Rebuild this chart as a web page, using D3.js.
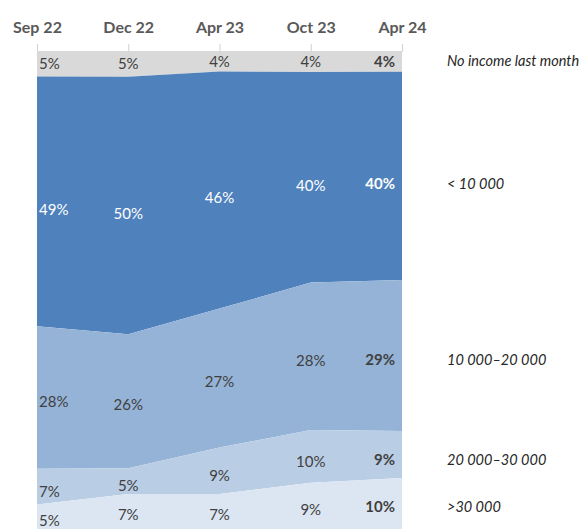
<!DOCTYPE html>
<html>
<head>
<meta charset="utf-8">
<script src="https://cdn.jsdelivr.net/npm/d3@7"></script>
<style>
  html, body { margin: 0; padding: 0; background: #fff; }
  svg { display: block; }
</style>
</head>
<body>
<svg id="chart" width="583" height="529"></svg>
<script>
// Survey waves
const periods = ["Sep 22", "Dec 22", "Apr 23", "Oct 23", "Apr 24"];
// Income groups, listed top to bottom
const categories = ["No income last month", "< 10 000", "10 000–20 000", "20 000–30 000", ">30 000"];
// Share of respondents per wave (%)
const noIncome    = [5, 5, 4, 4, 4];
const under10k    = [49, 50, 46, 40, 40];
const from10to20k = [28, 26, 27, 28, 29];
const from20to30k = [7, 5, 9, 10, 9];
const over30k     = [5, 7, 7, 9, 10];

const seriesValues = [noIncome, under10k, from10to20k, from20to30k, over30k];
const colors = ["#d9d9d9", "#4f81bd", "#95b3d7", "#b9cde5", "#dce6f2"];
const labelColors = ["#404040", "#ffffff", "#404040", "#404040", "#404040"];
// vertical nudge (px) of the labels below each band's middle
const labelNudge = [0, 8, 4, 5, 3];

const rows = periods.map((p, j) => {
  const r = { period: p };
  categories.forEach((c, i) => { r[c] = seriesValues[i][j]; });
  return r;
});

const stack = d3.stack().keys(categories).offset(d3.stackOffsetExpand);
const series = stack(rows);

const svg = d3.select("#chart");
const plotTop = 51, plotBottom = 530, plotLeft = 37, plotRight = 402;

const x = d3.scalePoint().domain(periods).range([plotLeft, plotRight]);
const y = d3.scaleLinear().domain([0, 1]).range([plotTop, plotBottom]);

const area = d3.area()
  .x(d => x(d.data.period))
  .y0(d => y(d[0]))
  .y1(d => y(d[1]));

svg.append("g")
  .selectAll("path")
  .data(series)
  .join("path")
  .attr("d", area)
  .attr("fill", (d, i) => colors[i]);

// Period axis along the top edge
const axis = svg.append("g")
  .attr("transform", `translate(0,${plotTop})`)
  .call(d3.axisTop(x).tickSize(7).tickPadding(11));
axis.select(".domain").attr("stroke", "#d9d9d9");
axis.selectAll(".tick line").attr("stroke", "#d0d0d0");
axis.selectAll(".tick text")
  .attr("fill", "#595959")
  .attr("font-family", "Lato, 'Open Sans', sans-serif")
  .attr("font-weight", "bold")
  .attr("font-size", 16);

// Value labels inside each band
const last = periods.length - 1;
const labels = svg.append("g")
  .attr("font-family", "Lato, 'Open Sans', sans-serif")
  .attr("font-size", 15);

series.forEach((s, i) => {
  s.forEach((d, j) => {
    const cx = x(d.data.period);
    const cy = (y(d[0]) + y(d[1])) / 2 + labelNudge[i];
    labels.append("text")
      .attr("x", j === 0 ? cx + 2 : j === last ? cx - 7 : cx)
      .attr("y", cy)
      .attr("dy", "0.35em")
      .attr("text-anchor", j === 0 ? "start" : j === last ? "end" : "middle")
      .attr("font-weight", j === last ? "bold" : "normal")
      .attr("fill", labelColors[i])
      .text(seriesValues[i][j] + "%");
  });
});

// Category names to the right of the last wave
const legend = svg.append("g")
  .attr("font-family", "Lato, 'Open Sans', sans-serif")
  .attr("font-style", "italic")
  .attr("font-size", 14.5)
  .attr("fill", "#262626");

series.forEach((s, i) => {
  const d = s[last];
  legend.append("text")
    .attr("x", 447)
    .attr("y", (y(d[0]) + y(d[1])) / 2 + labelNudge[i])
    .attr("dy", "0.35em")
    .text(categories[i]);
});
</script>
</body>
</html>
